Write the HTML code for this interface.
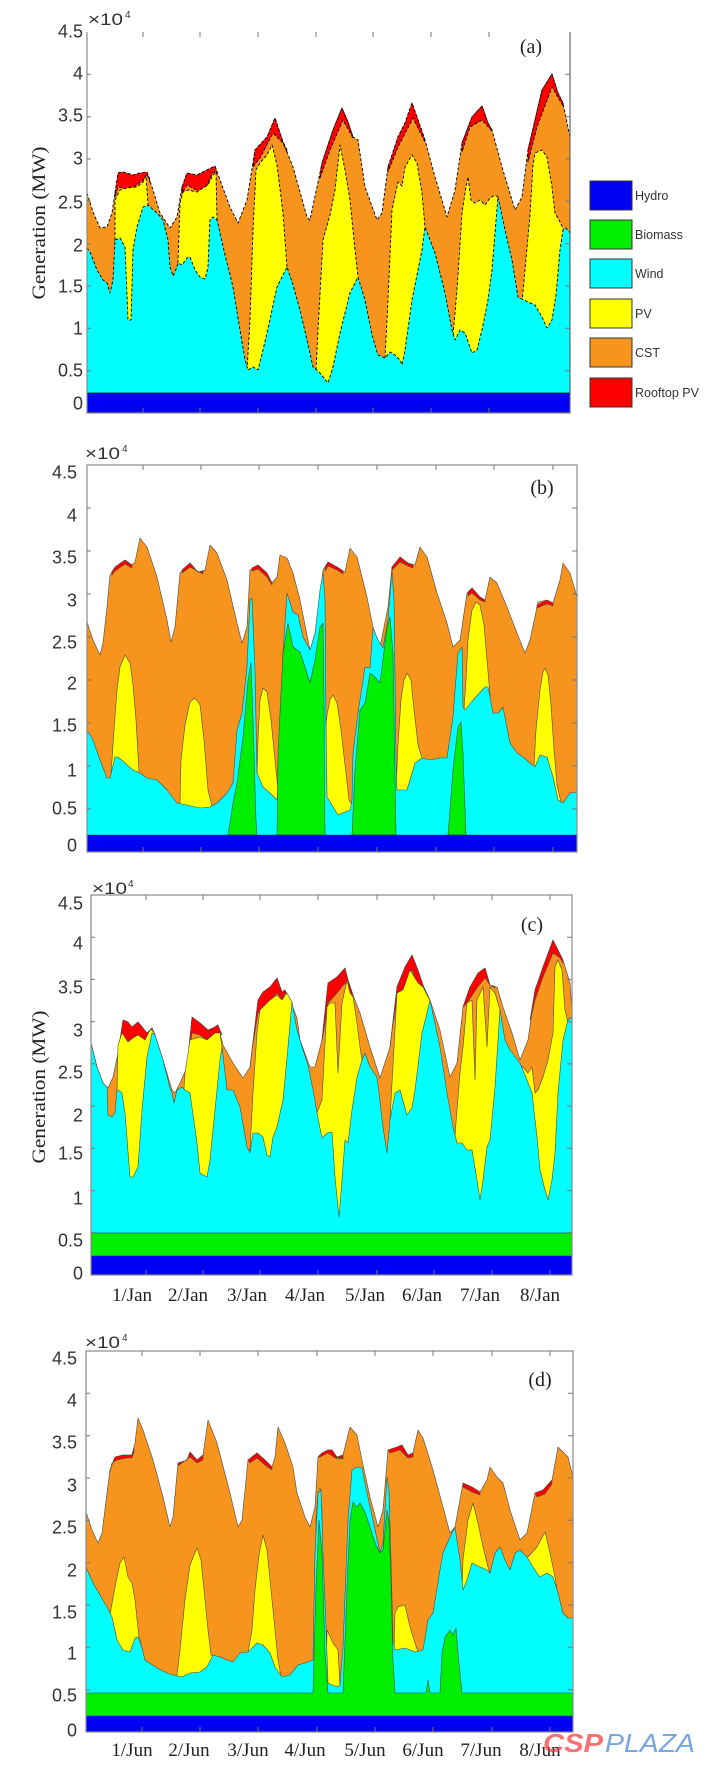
<!DOCTYPE html>
<html><head><meta charset="utf-8"><style>
html,body{margin:0;padding:0;background:#fff;}
svg{display:block;}
.s{font-family:"Liberation Sans",sans-serif;fill:#333;}
.f{font-family:"Liberation Serif",serif;fill:#222;}
</style></head><body>
<svg width="715" height="1772" viewBox="0 0 715 1772" xmlns="http://www.w3.org/2000/svg">
<rect width="715" height="1772" fill="#fff"/>

<!-- ================= PANEL A ================= -->
<g stroke="#000" stroke-width="0.9" stroke-dasharray="3 2" stroke-linejoin="round">
<polygon fill="#f7941d" points="87,193 93,212 100,228 107,227 112,213 115,193 118,173 123,172 133,175 140,173 147,172 152,187 160,213 170,228 177,217 182,187 187,173 197,175 207,170 215,166 220,180 230,207 238,223 247,200 255,150 267,137 275,118 283,142 293,167 307,217 310,220 317,187 322,163 333,130 342,108 348,122 353,137 358,140 365,187 377,220 382,213 388,167 398,137 405,123 412,103 417,117 425,140 435,177 447,217 455,190 462,143 472,117 482,106 488,123 492,130 502,167 515,210 522,197 528,150 542,90 552,74 558,93 563,103 570,137 570,413 87,413"/>
<polygon fill="#ff0000" points="115,193 118,173 123,172 133,175 140,173 147,172 150,180 150,182 147,174 143,180 137,185 128,189 118,187 115,197"/>
<polygon fill="#ff0000" points="182,187 187,173 197,175 207,170 215,166 217,172 217,173 213,172 207,185 200,192 187,185 182,193"/>
<polygon fill="#ff0000" points="253,165 255,150 267,137 275,118 283,142 287,150 287,152 283,143 273,133 260,158 253,167"/>
<polygon fill="#ff0000" points="320,177 322,163 333,130 342,108 348,122 353,137 353,138 343,120 330,150 320,178"/>
<polygon fill="#ff0000" points="388,167 398,137 405,123 412,103 417,117 425,140 425,142 413,118 398,147 388,172"/>
<polygon fill="#ff0000" points="462,143 472,117 482,106 488,123 492,130 492,131 482,120 470,127 462,152"/>
<polygon fill="#ff0000" points="528,150 542,90 552,74 558,93 563,103 563,106 552,87 537,127 528,162"/>
<polygon fill="#ffff00" points="115,240 115,200 120,190 127,188 137,187 143,182 146,176 148,205 148,413 115,413"/>
<polygon fill="#ffff00" points="178,263 180,203 183,192 188,190 197,192 203,188 208,185 213,175 216,172 217,220 217,413 178,413"/>
<polygon fill="#ffff00" points="247,370 250,320 253,230 256,170 260,163 267,155 272,145 277,165 283,213 287,267 287,413 247,413"/>
<polygon fill="#ffff00" points="316,370 318,330 323,240 330,215 335,190 340,145 345,170 350,200 355,250 358,277 358,413 316,413"/>
<polygon fill="#ffff00" points="385,358 388,300 392,210 398,182 402,186 405,167 412,155 417,163 422,193 425,227 425,413 385,413"/>
<polygon fill="#ffff00" points="453,335 457,290 462,213 466,187 468,177 471,200 475,203 480,200 485,205 490,198 495,195 498,197 498,413 453,413"/>
<polygon fill="#ffff00" points="522,302 525,270 530,215 533,165 535,153 542,150 547,157 552,187 555,213 560,222 565,233 570,237 570,413 522,413"/>
<polygon fill="#00ffff" points="87,248 90,252 97,270 103,280 107,283 110,293 113,280 115,240 120,238 125,247 128,320 131,320 133,250 137,227 143,207 148,205 157,213 163,220 168,240 170,267 173,276 177,267 178,263 182,265 187,258 190,257 195,270 200,277 205,279 208,267 210,220 213,217 217,220 225,255 233,287 240,330 245,360 248,370 253,367 258,370 263,350 267,333 277,287 283,275 287,267 293,285 300,310 307,340 313,367 320,373 328,383 333,367 340,333 350,293 358,277 365,300 372,335 378,355 385,358 390,352 395,355 400,360 402,365 405,350 412,300 418,270 422,250 425,227 430,240 435,253 445,293 452,330 455,340 460,330 465,333 472,353 477,350 482,330 488,300 492,270 495,233 498,197 505,230 512,260 518,297 528,302 535,305 542,317 547,328 552,320 556,295 560,250 563,230 566,228 570,233 570,413 87,413"/>
</g>
<rect x="87" y="393" width="483" height="20" fill="#0000f5"/>
<line x1="87" y1="393" x2="570" y2="393" stroke="#111" stroke-width="0.8"/>
<!-- frame a -->
<g stroke="#888" stroke-width="1.2" fill="none">
<line x1="87" y1="32" x2="87" y2="413"/>
<line x1="87" y1="413" x2="570" y2="413"/>
<line x1="570" y1="32" x2="570" y2="413" stroke="#666"/>
</g>
<g stroke="#777" stroke-width="1">
<path d="M143,32v5M200,32v5M258,32v5M316,32v5M373,32v5M431,32v5M489,32v5"/>
<path d="M143,413v-5M200,413v-5M258,413v-5M316,413v-5M373,413v-5M431,413v-5M489,413v-5"/>
<path d="M570,74.3h-5M570,116.7h-5M570,159h-5M570,201.3h-5M570,243.7h-5M570,286h-5M570,328.3h-5M570,370.7h-5"/>
<path d="M87,74.3h4M87,116.7h4M87,159h4M87,201.3h4M87,243.7h4M87,286h4M87,328.3h4M87,370.7h4"/>
</g>
<g class="s" font-size="18" text-anchor="end">
<text x="83" y="37.5">4.5</text><text x="83" y="79.5">4</text><text x="83" y="121.5">3.5</text><text x="83" y="164.5">3</text><text x="83" y="208.5">2.5</text><text x="83" y="251.5">2</text><text x="83" y="292.5">1.5</text><text x="83" y="334.5">1</text><text x="83" y="376.5">0.5</text><text x="83" y="409.5">0</text>
</g>
<text class="s" x="88" y="25" font-size="17" textLength="35" lengthAdjust="spacingAndGlyphs">×10</text>
<text class="s" x="125" y="18" font-size="10">4</text>
<text class="f" transform="translate(45,223) rotate(-90)" text-anchor="middle" font-size="19" textLength="153" lengthAdjust="spacingAndGlyphs">Generation (MW)</text>
<text class="f" x="531" y="53" text-anchor="middle" font-size="20">(a)</text>
<!-- legend -->
<g stroke="#333" stroke-width="1">
<rect x="590" y="181" width="42" height="29" fill="#0000f5"/>
<rect x="590" y="220" width="42" height="29" fill="#00ee00"/>
<rect x="590" y="259" width="42" height="29" fill="#00ffff"/>
<rect x="590" y="299" width="42" height="29" fill="#ffff00"/>
<rect x="590" y="338" width="42" height="29" fill="#f7941d"/>
<rect x="590" y="378" width="42" height="29" fill="#ff0000"/>
</g>
<g class="s" font-size="12.5" fill="#333">
<text x="635" y="200">Hydro</text>
<text x="635" y="239">Biomass</text>
<text x="635" y="278">Wind</text>
<text x="635" y="318">PV</text>
<text x="635" y="357">CST</text>
<text x="635" y="397">Rooftop PV</text>
</g>

<!-- ================= PANEL B ================= -->
<g stroke="#4a4a4a" stroke-width="0.6" stroke-linejoin="round">
<polygon fill="#f7941d" points="87,622 93,640 100,655 103,643 107,607 110,575 115,567 125,560 132,565 135,562 140,538 147,547 157,577 167,620 171,642 175,627 180,573 190,563 198,572 205,570 210,545 217,553 227,580 237,623 242,643 247,627 250,570 258,565 267,573 272,583 277,577 280,555 287,558 293,573 300,600 310,650 313,650 320,607 323,570 328,562 337,567 345,572 350,548 357,557 367,597 373,627 380,647 388,607 392,567 400,557 408,563 415,565 420,547 427,557 437,593 447,623 453,647 460,640 467,593 472,588 480,597 485,600 490,577 497,583 507,607 517,633 525,653 530,640 538,602 547,600 553,603 560,580 563,563 570,573 577,597 577,852 87,852"/>
<polygon fill="#ff0000" points="112,572 115,567 125,560 132,565 132,568 125,564 115,571 112,575"/>
<polygon fill="#ff0000" points="182,570 190,563 198,572 203,571 203,574 190,567 182,573"/>
<polygon fill="#ff0000" points="252,568 258,565 267,573 272,583 272,585 267,577 258,569 252,571"/>
<polygon fill="#ff0000" points="325,568 328,562 337,567 343,571 343,574 337,570 328,566 325,571"/>
<polygon fill="#ff0000" points="392,567 400,557 408,563 413,565 413,568 408,566 400,562 392,570"/>
<polygon fill="#ff0000" points="468,592 472,588 480,597 485,600 485,602 480,600 472,593 468,596"/>
<polygon fill="#ff0000" points="537,605 547,600 553,603 553,606 547,604 537,608"/>
<polygon fill="#ffff00" points="111,775 114,730 117,690 120,667 125,655 130,663 133,685 136,720 139,772 139,852 111,852"/>
<polygon fill="#ffff00" points="180,805 181,760 185,725 190,702 195,698 200,705 204,740 208,790 212,806 212,852 180,852"/>
<polygon fill="#ffff00" points="257,775 258,740 260,700 263,688 267,692 271,720 275,760 278,790 279,795 279,852 257,852"/>
<polygon fill="#ffff00" points="326,725 327,715 330,700 333,695 337,703 341,730 345,765 349,800 352,805 352,852 326,852"/>
<polygon fill="#ffff00" points="396,790 398,745 401,700 404,680 407,673 411,680 414,710 418,745 422,758 422,852 396,852"/>
<polygon fill="#ffff00" points="464,710 466,680 468,640 472,610 476,602 480,605 484,625 487,660 490,695 490,852 464,852"/>
<polygon fill="#ffff00" points="534,766 536,730 540,690 543,672 545,668 548,675 551,705 554,750 557,785 561,802 563,803 563,852 534,852"/>
<polygon fill="#00ffff" points="87,730 93,740 100,760 107,778 110,778 115,757 118,757 125,763 133,770 140,773 147,778 157,780 167,790 177,803 187,805 200,808 210,807 217,803 227,793 233,783 237,730 242,713 247,667 250,600 252,598 255,670 257,773 263,787 270,793 277,800 280,753 283,653 287,593 293,612 298,615 303,637 310,650 315,633 320,590 323,572 325,600 326,723 327,797 338,815 350,810 352,800 353,753 358,713 362,687 365,667 370,668 373,628 378,640 383,648 388,620 392,570 394,600 396,760 397,790 407,790 415,763 422,758 430,760 440,758 447,758 453,717 458,653 462,647 463,707 465,710 473,700 485,687 488,687 493,713 498,713 503,707 510,743 517,753 523,757 530,763 535,767 540,755 547,757 553,777 558,800 563,803 570,793 577,792 577,852 87,852"/>
<polygon fill="#00ee00" points="228,835 233,803 237,783 243,737 248,680 251,663 253,720 256,820 257,835"/>
<polygon fill="#00ee00" points="277,835 278,753 283,653 288,623 293,647 300,652 305,667 310,683 315,660 320,627 323,623 324,700 325,835"/>
<polygon fill="#00ee00" points="352,835 355,770 360,710 365,703 370,673 375,677 380,683 387,627 390,617 393,653 396,835"/>
<polygon fill="#00ee00" points="448,835 453,770 458,727 461,722 463,753 466,835"/>
</g>
<rect x="87" y="835" width="490" height="17" fill="#0000f5"/>
<line x1="87" y1="835" x2="577" y2="835" stroke="#333" stroke-width="0.6"/>
<g stroke="#8a8a8a" stroke-width="1.2" fill="none">
<rect x="87" y="465" width="490" height="387"/>
</g>
<g stroke="#777" stroke-width="1">
<path d="M143,465v5M201,465v5M259,465v5M318,465v5M377,465v5M436,465v5M494,465v5M553,465v5"/>
<path d="M143,852v-5M201,852v-5M259,852v-5M318,852v-5M377,852v-5M436,852v-5M494,852v-5M553,852v-5"/>
<path d="M577,508h-5M577,551h-5M577,594h-5M577,637h-5M577,680h-5M577,723h-5M577,766h-5M577,809h-5"/>
<path d="M87,508h4M87,551h4M87,594h4M87,637h4M87,680h4M87,723h4M87,766h4M87,809h4"/>
</g>
<g class="s" font-size="18" text-anchor="end">
<text x="77" y="478.5">4.5</text><text x="77" y="521.5">4</text><text x="77" y="563.5">3.5</text><text x="77" y="606.5">3</text><text x="77" y="648.5">2.5</text><text x="77" y="689.5">2</text><text x="77" y="731.5">1.5</text><text x="77" y="776.5">1</text><text x="77" y="814.5">0.5</text><text x="77" y="851.5">0</text>
</g>
<text class="s" x="85" y="459" font-size="17" textLength="35" lengthAdjust="spacingAndGlyphs">×10</text>
<text class="s" x="122" y="452" font-size="10">4</text>
<text class="f" x="542" y="494" text-anchor="middle" font-size="20">(b)</text>

<!-- ================= PANEL C ================= -->
<g stroke="#4a4a4a" stroke-width="0.6" stroke-linejoin="round">
<polygon fill="#f7941d" points="91,1043 97,1067 103,1083 108,1088 113,1077 118,1053 123,1020 128,1022 132,1027 138,1022 143,1028 147,1033 152,1028 155,1035 163,1060 172,1090 175,1093 180,1083 187,1067 192,1017 200,1023 208,1030 213,1028 218,1025 223,1045 233,1063 243,1078 250,1067 258,1000 263,992 270,987 277,978 282,992 285,990 290,1000 297,1018 300,1040 310,1067 315,1067 322,1040 328,983 337,977 345,968 348,980 353,995 360,1013 370,1047 380,1078 390,1047 397,987 405,967 412,955 418,970 423,985 430,1000 440,1030 450,1077 457,1063 463,1007 470,987 478,973 485,968 490,985 497,987 503,1007 512,1033 520,1060 528,1040 535,990 543,967 553,940 558,950 563,960 570,983 572,1010 572,1275 91,1275"/>
<polygon fill="#ff0000" points="118,1053 123,1020 128,1022 132,1027 138,1022 143,1028 147,1033 152,1028 155,1035 152,1031 150,1030 145,1040 138,1035 133,1038 128,1042 122,1033"/>
<polygon fill="#ff0000" points="187,1067 192,1017 200,1023 208,1030 213,1028 218,1025 222,1035 220,1033 213,1038 207,1040 200,1035 192,1033 188,1060"/>
<polygon fill="#ff0000" points="250,1067 258,1000 263,992 270,987 277,978 282,992 285,990 290,1000 285,993 282,1000 277,993 263,1010 258,1013 252,1050"/>
<polygon fill="#ff0000" points="322,1040 328,983 337,977 345,968 348,980 353,995 353,997 350,992 345,983 337,993 328,1003 324,1030"/>
<polygon fill="#ff0000" points="390,1047 397,987 405,967 412,955 418,970 423,985 427,995 427,996 423,987 417,983 412,970 405,987 398,993 392,1030"/>
<polygon fill="#ff0000" points="463,1007 470,987 478,973 485,968 490,985 495,987 495,988 490,985 485,978 477,988 467,1003 464,1006"/>
<polygon fill="#ff0000" points="530,1020 535,990 543,967 553,940 558,950 563,960 563,963 560,958 553,953 543,977 535,1000 531,1018"/>
<polygon fill="#ffff00" points="117,1090 118,1045 122,1033 128,1042 133,1038 138,1035 145,1040 150,1030 152,1030 154,1033 154,1275 117,1275"/>
<polygon fill="#ffff00" points="184,1088 185,1073 190,1040 200,1037 207,1040 215,1033 220,1033 222,1047 222,1275 184,1275"/>
<polygon fill="#ffff00" points="248,1153 250,1150 253,1093 257,1033 260,1010 270,1000 277,995 282,1000 287,993 292,1002 292,1275 248,1275"/>
<polygon fill="#ffff00" points="315,1117 317,1113 322,1100 327,1007 330,1003 335,1003 338,1073 342,1003 347,980 350,993 353,997 357,1023 360,1047 362,1060 362,1275 315,1275"/>
<polygon fill="#ffff00" points="390,1120 397,993 403,990 410,970 418,983 423,987 428,997 430,1000 430,1275 390,1275"/>
<polygon fill="#ffff00" points="455,1135 460,1073 463,1047 467,1003 472,1000 475,1080 477,1000 483,987 487,1047 490,987 495,993 500,1010 500,1275 455,1275"/>
<polygon fill="#ffff00" points="522,1066 523,1067 528,1073 532,1067 535,1093 538,1090 543,1077 548,1060 553,1033 555,967 558,960 562,970 565,1010 568,1023 572,1017 572,1275 522,1275"/>
<polygon fill="#00ffff" points="91,1043 97,1067 103,1083 107,1087 108,1115 112,1117 115,1113 117,1090 118,1090 122,1093 125,1113 130,1177 133,1177 138,1167 142,1110 147,1057 152,1033 155,1035 163,1060 170,1088 172,1093 174,1103 177,1090 182,1087 185,1090 190,1093 197,1143 200,1173 207,1177 210,1160 215,1110 220,1060 222,1047 227,1090 233,1090 240,1107 247,1147 250,1153 253,1133 258,1133 263,1137 267,1155 270,1157 273,1137 277,1127 283,1100 288,1047 292,1002 297,1030 303,1050 308,1065 313,1090 317,1113 322,1138 327,1133 332,1132 335,1177 339,1217 342,1180 345,1140 348,1143 352,1110 357,1077 362,1060 365,1053 370,1067 377,1077 383,1127 387,1153 390,1120 395,1093 400,1090 407,1115 412,1108 415,1090 422,1033 427,1013 430,1000 440,1047 447,1093 453,1127 457,1143 462,1143 467,1150 472,1150 477,1180 480,1200 483,1180 487,1147 490,1140 495,1087 500,1010 505,1040 510,1050 520,1063 527,1080 532,1093 537,1137 540,1170 545,1190 548,1200 552,1180 555,1153 558,1093 563,1040 568,1020 572,1017 572,1275 91,1275"/>
</g>
<rect x="91" y="1233" width="481" height="23" fill="#00ee00" stroke="#333" stroke-width="0.6"/>
<rect x="91" y="1256" width="481" height="19" fill="#0000f5"/>
<g stroke="#8a8a8a" stroke-width="1.2" fill="none">
<rect x="91" y="895" width="481" height="380"/>
</g>
<g stroke="#777" stroke-width="1">
<path d="M146,895v5M203,895v5M260,895v5M318,895v5M377,895v5M434,895v5M492,895v5M550,895v5"/>
<path d="M146,1275v-5M203,1275v-5M260,1275v-5M318,1275v-5M377,1275v-5M434,1275v-5M492,1275v-5M550,1275v-5"/>
<path d="M572,937.2h-5M572,979.4h-5M572,1021.7h-5M572,1063.9h-5M572,1106.1h-5M572,1148.3h-5M572,1190.6h-5M572,1232.8h-5"/>
<path d="M91,937.2h4M91,979.4h4M91,1021.7h4M91,1063.9h4M91,1106.1h4M91,1148.3h4M91,1190.6h4M91,1232.8h4"/>
</g>
<g class="s" font-size="18" text-anchor="end">
<text x="83" y="909.5">4.5</text><text x="83" y="949.5">4</text><text x="83" y="993.5">3.5</text><text x="83" y="1036.5">3</text><text x="83" y="1078.5">2.5</text><text x="83" y="1121.5">2</text><text x="83" y="1159.5">1.5</text><text x="83" y="1204.5">1</text><text x="83" y="1246.5">0.5</text><text x="83" y="1279.5">0</text>
</g>
<text class="s" x="92" y="894" font-size="17" textLength="35" lengthAdjust="spacingAndGlyphs">×10</text>
<text class="s" x="128" y="887" font-size="10">4</text>
<text class="f" transform="translate(45,1087) rotate(-90)" text-anchor="middle" font-size="19" textLength="153" lengthAdjust="spacingAndGlyphs">Generation (MW)</text>
<text class="f" x="532" y="931" text-anchor="middle" font-size="20">(c)</text>
<g class="f" font-size="19" text-anchor="middle">
<text x="132" y="1301">1/Jan</text><text x="188" y="1301">2/Jan</text><text x="247" y="1301">3/Jan</text><text x="305" y="1301">4/Jan</text><text x="365" y="1301">5/Jan</text><text x="422" y="1301">6/Jan</text><text x="480" y="1301">7/Jan</text><text x="540" y="1301">8/Jan</text>
</g>

<!-- ================= PANEL D ================= -->
<g stroke="#4a4a4a" stroke-width="0.6" stroke-linejoin="round">
<polygon fill="#f7941d" points="86,1512 92,1530 98,1543 102,1533 107,1493 110,1470 115,1457 123,1455 132,1455 135,1443 138,1418 143,1430 153,1460 163,1497 170,1527 173,1517 178,1463 187,1460 190,1452 197,1460 203,1455 208,1420 217,1443 230,1493 238,1527 242,1520 248,1460 257,1453 265,1460 272,1467 275,1457 278,1427 285,1443 293,1467 297,1493 305,1517 310,1527 315,1507 318,1457 322,1453 328,1450 332,1450 337,1457 343,1455 350,1427 357,1435 362,1460 370,1497 378,1527 383,1510 388,1450 397,1447 402,1445 408,1455 413,1453 418,1430 423,1438 433,1470 443,1507 450,1533 455,1527 463,1483 472,1487 480,1492 487,1480 490,1467 497,1477 503,1483 510,1510 520,1540 527,1533 535,1493 543,1490 552,1480 558,1447 563,1452 568,1457 573,1477 573,1732 86,1732"/>
<polygon fill="#ff0000" points="110,1470 115,1457 123,1455 132,1455 134,1448 134,1452 132,1458 127,1458 117,1460 112,1463 110,1472"/>
<polygon fill="#ff0000" points="178,1463 187,1460 190,1452 197,1460 203,1455 203,1460 197,1463 190,1457 182,1463 178,1466"/>
<polygon fill="#ff0000" points="248,1460 257,1453 265,1460 272,1467 272,1470 265,1465 257,1458 250,1463"/>
<polygon fill="#ff0000" points="318,1457 322,1453 328,1450 332,1450 337,1457 343,1455 343,1459 335,1458 328,1453 320,1457"/>
<polygon fill="#ff0000" points="388,1450 397,1447 402,1445 408,1455 413,1453 413,1457 408,1458 400,1450 390,1453"/>
<polygon fill="#ff0000" points="463,1483 472,1487 480,1492 480,1495 472,1492 463,1487"/>
<polygon fill="#ff0000" points="535,1493 543,1490 552,1480 552,1484 545,1494 537,1497"/>
<polygon fill="#ffff00" points="110,1615 115,1587 120,1563 124,1557 128,1577 132,1583 135,1600 139,1637 141,1642 141,1732 110,1732"/>
<polygon fill="#ffff00" points="177,1675 180,1650 185,1600 190,1565 197,1548 201,1560 205,1600 208,1630 211,1655 213,1656 213,1732 177,1732"/>
<polygon fill="#ffff00" points="248,1652 252,1630 255,1590 259,1555 263,1535 267,1550 271,1590 275,1630 278,1660 281,1677 281,1732 248,1732"/>
<polygon fill="#ffff00" points="316,1520 318,1492 320,1488 322,1510 322,1732 316,1732"/>
<polygon fill="#ffff00" points="326,1685 327,1630 333,1643 338,1650 340,1685 340,1732 326,1732"/>
<polygon fill="#ffff00" points="394,1650 395,1613 398,1607 405,1605 410,1627 415,1643 418,1652 418,1732 394,1732"/>
<polygon fill="#ffff00" points="462,1590 463,1560 468,1520 473,1503 478,1523 483,1547 488,1567 490,1573 490,1732 462,1732"/>
<polygon fill="#ffff00" points="527,1557 528,1557 537,1547 545,1532 550,1553 555,1577 557,1590 557,1732 527,1732"/>
<polygon fill="#00ffff" points="86,1567 93,1583 100,1595 107,1607 112,1617 117,1640 123,1650 130,1652 135,1638 138,1637 142,1648 145,1660 157,1668 167,1673 173,1675 182,1677 190,1673 200,1672 207,1667 213,1655 220,1657 227,1660 233,1662 240,1653 248,1652 257,1643 263,1645 270,1653 275,1667 282,1677 290,1675 298,1665 305,1663 313,1660 315,1553 318,1493 321,1490 323,1553 326,1627 328,1683 332,1685 338,1687 340,1685 343,1647 348,1520 352,1470 357,1467 362,1468 367,1493 373,1520 380,1553 383,1543 387,1477 389,1490 391,1560 393,1640 395,1650 405,1648 415,1652 423,1650 428,1620 433,1613 440,1570 443,1553 450,1537 455,1527 460,1560 463,1590 467,1580 472,1563 480,1567 487,1570 490,1573 495,1553 500,1547 505,1560 510,1570 515,1553 520,1550 527,1557 533,1567 540,1577 547,1573 553,1577 558,1593 563,1613 568,1618 573,1618 573,1732 86,1732"/>
<polygon fill="#00ee00" points="86,1693 313,1693 316,1587 319,1520 322,1553 325,1653 328,1693 343,1693 347,1587 350,1520 353,1502 357,1507 360,1503 365,1512 370,1527 375,1543 380,1553 383,1550 387,1510 389,1520 391,1580 393,1660 395,1693 426,1693 428,1680 430,1693 440,1693 442,1653 445,1637 450,1630 453,1635 456,1628 458,1653 462,1693 573,1693 573,1732 86,1732"/>
</g>
<rect x="86" y="1716" width="487" height="16" fill="#0000f5"/>
<line x1="86" y1="1716" x2="573" y2="1716" stroke="#333" stroke-width="0.6"/>
<g stroke="#8a8a8a" stroke-width="1.2" fill="none">
<rect x="86" y="1351" width="487" height="381"/>
</g>
<g stroke="#777" stroke-width="1">
<path d="M142,1351v5M200,1351v5M258,1351v5M317,1351v5M375,1351v5M433,1351v5M492,1351v5M550,1351v5"/>
<path d="M142,1732v-5M200,1732v-5M258,1732v-5M317,1732v-5M375,1732v-5M433,1732v-5M492,1732v-5M550,1732v-5"/>
<path d="M573,1393.3h-5M573,1435.7h-5M573,1478h-5M573,1520.3h-5M573,1562.7h-5M573,1605h-5M573,1647.3h-5M573,1689.7h-5"/>
<path d="M86,1393.3h4M86,1435.7h4M86,1478h4M86,1520.3h4M86,1562.7h4M86,1605h4M86,1647.3h4M86,1689.7h4"/>
</g>
<g class="s" font-size="18" text-anchor="end">
<text x="77" y="1364.5">4.5</text><text x="77" y="1406.5">4</text><text x="77" y="1448.5">3.5</text><text x="77" y="1491.5">3</text><text x="77" y="1533.5">2.5</text><text x="77" y="1576.5">2</text><text x="77" y="1618.5">1.5</text><text x="77" y="1659.5">1</text><text x="77" y="1701.5">0.5</text><text x="77" y="1736.5">0</text>
</g>
<text class="s" x="85" y="1348" font-size="17" textLength="35" lengthAdjust="spacingAndGlyphs">×10</text>
<text class="s" x="122" y="1341" font-size="10">4</text>
<text class="f" x="540" y="1386" text-anchor="middle" font-size="20">(d)</text>
<g class="f" font-size="19" text-anchor="middle">
<text x="132" y="1756">1/Jun</text><text x="189" y="1756">2/Jun</text><text x="248" y="1756">3/Jun</text><text x="305" y="1756">4/Jun</text><text x="365" y="1756">5/Jun</text><text x="423" y="1756">6/Jun</text><text x="481" y="1756">7/Jun</text><text x="540" y="1756">8/Jun</text>
</g>

<!-- watermark -->
<text x="543" y="1752" font-family="Liberation Sans, sans-serif" font-style="italic" font-weight="bold" font-size="26" fill="#f03c3c" fill-opacity="0.72" textLength="60" lengthAdjust="spacingAndGlyphs">CSP</text>
<text x="605" y="1752" font-family="Liberation Sans, sans-serif" font-style="italic" font-size="26" fill="#7aa6e0" textLength="90" lengthAdjust="spacingAndGlyphs">PLAZA</text>
</svg>
</body></html>
